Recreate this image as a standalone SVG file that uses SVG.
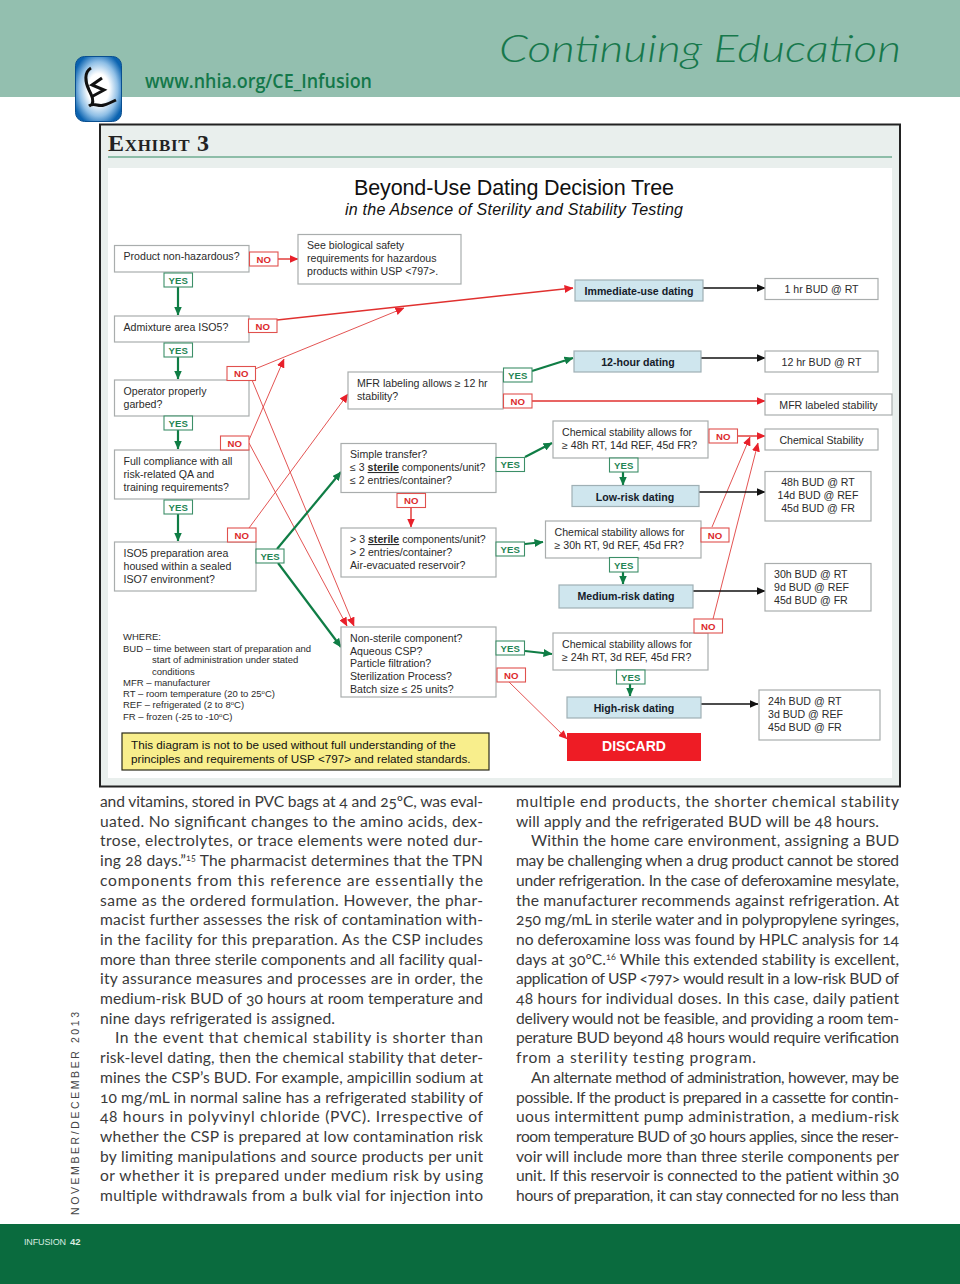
<svg xmlns="http://www.w3.org/2000/svg" width="960" height="1284" viewBox="0 0 960 1284">
<style>
text{font-family:"Liberation Sans",Arial,sans-serif;fill:#2b2b2b;font-size:10.6px}
.box{fill:#fff;stroke:#a9adad;stroke-width:1.2}
.blue{fill:#cfe6ee;stroke:#9fb0b5;stroke-width:1.2}
.yb{fill:#fff;stroke:#3c8f68;stroke-width:1.1}
.nb{fill:#fff;stroke:#e0514e;stroke-width:1.1}
.yt{fill:#1f8554;font-weight:700;font-size:9.6px;text-anchor:middle}
.nt{fill:#dc2a2d;font-weight:700;font-size:9.6px;text-anchor:middle}
.bold{font-weight:700;fill:#15202a;text-anchor:middle}
.mid{text-anchor:middle}
.lg{font-size:9.5px}
.red{stroke:#e0413f;stroke-width:.9;fill:none;marker-end:url(#ar)}
.redb{stroke:#e0312f;stroke-width:1.4;fill:none;marker-end:url(#ar)}
.grn{stroke:#0f7d45;stroke-width:2.2;fill:none;marker-end:url(#ag)}
.blk{stroke:#111;stroke-width:1.3;fill:none;marker-end:url(#ak)}
.body text{font-family:"Lato","Open Sans",sans-serif;font-size:15.6px;fill:#3a3a3a;font-variant-numeric:oldstyle-nums}
.sup{font-size:9px}
</style>
<defs>
<marker id="ar" markerUnits="userSpaceOnUse" markerWidth="9" markerHeight="8" refX="8.5" refY="4" orient="auto"><path d="M0 0L9 4L0 8z" fill="#e8202a"/></marker>
<marker id="ag" markerUnits="userSpaceOnUse" markerWidth="9" markerHeight="8" refX="8.5" refY="4" orient="auto"><path d="M0 0L9 4L0 8z" fill="#0f7d45"/></marker>
<marker id="ak" markerUnits="userSpaceOnUse" markerWidth="9" markerHeight="8" refX="8.5" refY="4" orient="auto"><path d="M0 0L9 4L0 8z" fill="#111"/></marker>
<radialGradient id="lg" cx="50%" cy="50%" r="58%"><stop offset="0.4" stop-color="#fff"/><stop offset="0.72" stop-color="#8fbfe6"/><stop offset="1" stop-color="#0b63b0"/></radialGradient>
</defs>
<rect width="960" height="1284" fill="#fff"/>
<g id="header">
<rect width="960" height="97" fill="#93bfaf"/>
<text x="499" y="62" textLength="402" lengthAdjust="spacingAndGlyphs" style="font-family:Lato,sans-serif;font-style:italic;font-weight:300;font-size:38px;fill:#17784c">Continuing Education</text>
<text x="145" y="88" textLength="227" lengthAdjust="spacingAndGlyphs" style="font-family:'Open Sans',sans-serif;font-weight:600;font-size:19px;fill:#14784a">www.nhia.org/CE_Infusion</text>
<rect x="75.500" y="56.500" width="46" height="65" rx="9" fill="url(#lg)" stroke="#0a4f8f"/>
<path d="M91 68C84 72 85 82 89 90C92 96 94 100 92 105M102 78L92 85L104 90L93 96M89 106C94 102 98 107 104 105C108 104 112 102 116 100" fill="none" stroke="#111" stroke-width="3"/>
</g>
<g id="frame">
<rect x="100" y="124.500" width="800" height="662" fill="#e9efed" stroke="#222" stroke-width="2"/>
<rect x="108" y="168" width="784" height="610" fill="#fff"/>
<text x="108" y="151" textLength="101" style="font-family:'Liberation Serif',serif;font-variant:small-caps;font-size:24px;font-weight:700;fill:#222">Exhibit 3</text>
<rect x="108" y="156" width="784" height="2" fill="#8dbda8"/>
<text x="514" y="195" class="mid" textLength="320" style="font-size:21.5px;fill:#111">Beyond-Use Dating Decision Tree</text>
<text x="514" y="215" class="mid" textLength="338" style="font-size:16px;font-style:italic;fill:#111">in the Absence of Sterility and Stability Testing</text>
</g>
<g id="connectors">
<path class="redb" d="M278 259H298"/>
<path class="redb" d="M277 320L573 288"/>
<path class="red" d="M255 369L404 308"/>
<path class="red" d="M249 440L284 359"/>
<path class="red" d="M249 528L348 394"/>
<path class="red" d="M252 380L354 626"/>
<path class="red" d="M249 443L347 626"/>
<path class="redb" d="M532 401H765"/>
<path class="redb" d="M738 436H765"/>
<path class="red" d="M712 527L750 437"/>
<path class="red" d="M713 619L758 443"/>
<path class="red" d="M509 682L567 739"/>
<path class="redb" d="M411 508V527"/>
<path class="grn" d="M178 287V315"/>
<path class="grn" d="M178 357V379"/>
<path class="grn" d="M178 430V449"/>
<path class="grn" d="M178 514V541"/>
<path class="grn" d="M277 549L341 472"/>
<path class="grn" d="M278 563L341 647"/>
<path class="grn" d="M532 371L573 358"/>
<path class="grn" d="M525 457L552 443"/>
<path class="grn" d="M525 544L543 542"/>
<path class="grn" d="M525 651L552 654"/>
<path class="grn" d="M623 472V485"/>
<path class="grn" d="M623 572V584"/>
<path class="grn" d="M630 684V696"/>
<path class="blk" d="M703 288H765"/>
<path class="blk" d="M701 358H765"/>
<path class="blk" d="M699 492H765"/>
<path class="blk" d="M693 591H765"/>
<path class="blk" d="M701 704H758"/>
</g>
<g id="n-product"><rect class="box" x="114.500" y="245.500" width="134.500" height="26.500"/><text x="123.500" y="260">Product non-hazardous?</text></g>
<g id="n-bio"><rect class="box" x="298" y="234.500" width="163" height="49.500"/><text x="307" y="249">See biological safety</text><text x="307" y="262">requirements for hazardous</text><text x="307" y="275">products within USP &lt;797&gt;.</text></g>
<g id="n-admix"><rect class="box" x="114.500" y="316" width="134.500" height="26"/><text x="123.500" y="330.500">Admixture area ISO5?</text></g>
<g id="n-garbed"><rect class="box" x="114.500" y="380" width="134.500" height="36"/><text x="123.500" y="395">Operator properly</text><text x="123.500" y="408">garbed?</text></g>
<g id="n-compliance"><rect class="box" x="114.500" y="450" width="134.500" height="49"/><text x="123.500" y="465">Full compliance with all</text><text x="123.500" y="478">risk-related QA and</text><text x="123.500" y="491">training requirements?</text></g>
<g id="n-iso5"><rect class="box" x="114.500" y="542" width="141.500" height="49"/><text x="123.500" y="557">ISO5 preparation area</text><text x="123.500" y="570">housed within a sealed</text><text x="123.500" y="583">ISO7 environment?</text></g>
<g id="n-mfr"><rect class="box" x="348" y="372" width="155" height="37"/><text x="357" y="387">MFR labeling allows ≥ 12 hr</text><text x="357" y="400">stability?</text></g>
<g id="n-simple"><rect class="box" x="341" y="443.500" width="155" height="49"/><text x="350" y="458">Simple transfer?</text><text x="350" y="471">≤ 3 <tspan font-weight="700" text-decoration="underline">sterile</tspan> components/unit?</text><text x="350" y="484">≤ 2 entries/container?</text></g>
<g id="n-medium-q"><rect class="box" x="341" y="528" width="155" height="49"/><text x="350" y="543">&gt; 3 <tspan font-weight="700" text-decoration="underline">sterile</tspan> components/unit?</text><text x="350" y="556">&gt; 2 entries/container?</text><text x="350" y="569">Air-evacuated reservoir?</text></g>
<g id="n-nonsterile"><rect class="box" x="341" y="627" width="155" height="70"/><text x="350" y="642">Non-sterile component?</text><text x="350" y="654.500">Aqueous CSP?</text><text x="350" y="667">Particle filtration?</text><text x="350" y="680">Sterilization Process?</text><text x="350" y="692.500">Batch size ≤ 25 units?</text></g>
<g id="n-chem48"><rect class="box" x="553" y="421" width="155" height="37"/><text x="562" y="436">Chemical stability allows for</text><text x="562" y="449">≥ 48h RT, 14d REF, 45d FR?</text></g>
<g id="n-chem30"><rect class="box" x="545.500" y="521" width="155.500" height="37"/><text x="554.500" y="536">Chemical stability allows for</text><text x="554.500" y="549">≥ 30h RT, 9d REF, 45d FR?</text></g>
<g id="n-chem24"><rect class="box" x="553" y="633" width="155" height="37"/><text x="562" y="648">Chemical stability allows for</text><text x="562" y="661">≥ 24h RT, 3d REF, 45d FR?</text></g>
<g id="n-immediate"><rect class="blue" x="575" y="280" width="128" height="21"/><text class="bold" x="639" y="295">Immediate-use dating</text></g>
<g id="n-12hour"><rect class="blue" x="574" y="351" width="127" height="21"/><text class="bold" x="638" y="366">12-hour dating</text></g>
<g id="n-low"><rect class="blue" x="572" y="485.500" width="127" height="21"/><text class="bold" x="635" y="500.500">Low-risk dating</text></g>
<g id="n-medium"><rect class="blue" x="559" y="585" width="134" height="23"/><text class="bold" x="626" y="600">Medium-risk dating</text></g>
<g id="n-high"><rect class="blue" x="567" y="697" width="134" height="21"/><text class="bold" x="634" y="712">High-risk dating</text></g>
<g id="n-discard"><rect x="567" y="733" width="134" height="28" fill="#ee1c25"/><text x="634" y="751" class="mid" style="fill:#fff;font-weight:700;font-size:14px">DISCARD</text></g>
<g id="n-r1"><rect class="box" x="765" y="278.500" width="113" height="21"/><text x="821.500" y="293" class="mid">1 hr BUD @ RT</text></g>
<g id="n-r12"><rect class="box" x="765" y="351" width="113" height="21"/><text x="821.500" y="366" class="mid">12 hr BUD @ RT</text></g>
<g id="n-rmfr"><rect class="box" x="765" y="394" width="127" height="21"/><text x="828.500" y="409" class="mid">MFR labeled stability</text></g>
<g id="n-rchem"><rect class="box" x="765" y="429" width="113" height="21"/><text x="821.500" y="444" class="mid">Chemical Stability</text></g>
<g id="n-r48"><rect class="box" x="765" y="471.500" width="106" height="49.500"/><text x="818" y="486" class="mid">48h BUD @ RT</text><text x="818" y="499" class="mid">14d BUD @ REF</text><text x="818" y="512" class="mid">45d BUD @ FR</text></g>
<g id="n-r30"><rect class="box" x="765" y="563.500" width="106" height="47.500"/><text x="774" y="578">30h BUD @ RT</text><text x="774" y="591">9d BUD @ REF</text><text x="774" y="604">45d BUD @ FR</text></g>
<g id="n-r24"><rect class="box" x="759" y="690" width="121" height="50"/><text x="768" y="705">24h BUD @ RT</text><text x="768" y="718">3d BUD @ REF</text><text x="768" y="731">45d BUD @ FR</text></g>
<g id="labels-yes">
<g id="y1"><rect class="yb" x="164" y="273" width="28.500" height="14"/><text class="yt" x="178.200" y="283.500">YES</text></g>
<g id="y2"><rect class="yb" x="164" y="343" width="28.500" height="14"/><text class="yt" x="178.200" y="353.500">YES</text></g>
<g id="y3"><rect class="yb" x="164" y="416" width="28.500" height="14"/><text class="yt" x="178.200" y="426.500">YES</text></g>
<g id="y4"><rect class="yb" x="164" y="500" width="28.500" height="14"/><text class="yt" x="178.200" y="510.500">YES</text></g>
<g id="y5"><rect class="yb" x="256" y="549" width="28" height="14"/><text class="yt" x="270" y="559.500">YES</text></g>
<g id="y6"><rect class="yb" x="503.500" y="368" width="28.500" height="14"/><text class="yt" x="517.700" y="378.500">YES</text></g>
<g id="y7"><rect class="yb" x="496" y="457.500" width="28.500" height="14"/><text class="yt" x="510.200" y="468">YES</text></g>
<g id="y8"><rect class="yb" x="496" y="542" width="28.500" height="14"/><text class="yt" x="510.200" y="552.500">YES</text></g>
<g id="y9"><rect class="yb" x="496" y="641" width="28.500" height="14"/><text class="yt" x="510.200" y="651.500">YES</text></g>
<g id="y10"><rect class="yb" x="609.500" y="458" width="28.500" height="14"/><text class="yt" x="623.700" y="468.500">YES</text></g>
<g id="y11"><rect class="yb" x="609.500" y="557.500" width="28.500" height="14.500"/><text class="yt" x="623.700" y="568.500">YES</text></g>
<g id="y12"><rect class="yb" x="616.500" y="670" width="28.500" height="14"/><text class="yt" x="630.700" y="680.500">YES</text></g>
</g>
<g id="labels-no">
<g id="x1"><rect class="nb" x="249.500" y="252" width="28.500" height="14"/><text class="nt" x="263.700" y="262.500">NO</text></g>
<g id="x2"><rect class="nb" x="248.500" y="319" width="28.500" height="13.500"/><text class="nt" x="262.700" y="329.500">NO</text></g>
<g id="x3"><rect class="nb" x="227" y="366.500" width="28.500" height="14"/><text class="nt" x="241.200" y="377">NO</text></g>
<g id="x4"><rect class="nb" x="220.500" y="436" width="28.500" height="14"/><text class="nt" x="234.700" y="446.500">NO</text></g>
<g id="x5"><rect class="nb" x="227.500" y="528" width="28.500" height="14"/><text class="nt" x="241.700" y="538.500">NO</text></g>
<g id="x6"><rect class="nb" x="503.500" y="394" width="28.500" height="14"/><text class="nt" x="517.700" y="404.500">NO</text></g>
<g id="x7"><rect class="nb" x="397" y="493.500" width="28.500" height="14"/><text class="nt" x="411.200" y="504">NO</text></g>
<g id="x8"><rect class="nb" x="709" y="429" width="28.500" height="14"/><text class="nt" x="723.200" y="439.500">NO</text></g>
<g id="x9"><rect class="nb" x="701" y="528" width="28" height="14"/><text class="nt" x="715" y="538.500">NO</text></g>
<g id="x10"><rect class="nb" x="694" y="619" width="28.500" height="14"/><text class="nt" x="708.200" y="629.500">NO</text></g>
<g id="x11"><rect class="nb" x="497" y="668" width="28.500" height="14"/><text class="nt" x="511.200" y="678.500">NO</text></g>
</g>
<g id="legend">
<text class="lg" x="123" y="640">WHERE:</text>
<text class="lg" x="123" y="651.500">BUD – time between start of preparation and</text>
<text class="lg" x="152" y="662.500">start of administration under stated</text>
<text class="lg" x="152" y="674.500">conditions</text>
<text class="lg" x="123" y="685.500">MFR – manufacturer</text>
<text class="lg" x="123" y="697">RT – room temperature (20 to 25<tspan font-size="6" dy="-3">o</tspan><tspan dy="3">C)</tspan></text>
<text class="lg" x="123" y="708">REF – refrigerated (2 to 8<tspan font-size="6" dy="-3">o</tspan><tspan dy="3">C)</tspan></text>
<text class="lg" x="123" y="719.500">FR – frozen (-25 to  -10<tspan font-size="6" dy="-3">o</tspan><tspan dy="3">C)</tspan></text>
</g>
<g id="notice"><rect x="122" y="733" width="367" height="37" fill="#f8ee8c" stroke="#2a2a1a" stroke-width="1.200"/>
<text x="131" y="749" style="font-size:11.7px;fill:#111">This diagram is not to be used without full understanding of the</text>
<text x="131" y="763" style="font-size:11.7px;fill:#111">principles and requirements of USP &lt;797&gt; and related standards.</text></g>
<g class="body" id="col-left" transform="translate(0 1)">
<text x="100" y="806" textLength="383">and vitamins, stored in PVC bags at 4 and 25ºC, was eval-</text>
<text x="100" y="825.700" textLength="383">uated. No significant changes to the amino acids, dex-</text>
<text x="100" y="845.400" textLength="383">trose, electrolytes, or trace elements were noted dur-</text>
<text x="100" y="865.100" textLength="383">ing 28 days.”<tspan class="sup" dy="-5">15</tspan><tspan dy="5"> The pharmacist determines that the TPN</tspan></text>
<text x="100" y="884.800" textLength="383">components from this reference are essentially the</text>
<text x="100" y="904.500" textLength="383">same as the ordered formulation. However, the phar-</text>
<text x="100" y="924.200" textLength="383">macist further assesses the risk of contamination with-</text>
<text x="100" y="943.900" textLength="383">in the facility for this preparation. As the CSP includes</text>
<text x="100" y="963.600" textLength="383">more than three sterile components and all facility qual-</text>
<text x="100" y="983.300" textLength="383">ity assurance measures and processes are in order, the</text>
<text x="100" y="1003" textLength="383">medium-risk BUD of 30 hours at room temperature and</text>
<text x="100" y="1022.700" textLength="235">nine days refrigerated is assigned.</text>
<text x="115" y="1042.400" textLength="368">In the event that chemical stability is shorter than</text>
<text x="100" y="1062.100" textLength="383">risk-level dating, then the chemical stability that deter-</text>
<text x="100" y="1081.800" textLength="383">mines the CSP’s BUD. For example, ampicillin sodium at</text>
<text x="100" y="1101.500" textLength="383">10 mg/mL in normal saline has a refrigerated stability of</text>
<text x="100" y="1121.200" textLength="383">48 hours in polyvinyl chloride (PVC). Irrespective of</text>
<text x="100" y="1140.900" textLength="383">whether the CSP is prepared at low contamination risk</text>
<text x="100" y="1160.600" textLength="383">by limiting manipulations and source products per unit</text>
<text x="100" y="1180.300" textLength="383">or whether it is prepared under medium risk by using</text>
<text x="100" y="1200" textLength="383">multiple withdrawals from a bulk vial for injection into</text>
</g>
<g class="body" id="col-right" transform="translate(0 1)">
<text x="516" y="806" textLength="383">multiple end products, the shorter chemical stability</text>
<text x="516" y="825.700" textLength="363">will apply and the refrigerated BUD will be 48 hours.</text>
<text x="531" y="845.400" textLength="368">Within the home care environment, assigning a BUD</text>
<text x="516" y="865.100" textLength="383">may be challenging when a drug product cannot be stored</text>
<text x="516" y="884.800" textLength="383">under refrigeration. In the case of deferoxamine mesylate,</text>
<text x="516" y="904.500" textLength="383">the manufacturer recommends against refrigeration. At</text>
<text x="516" y="924.200" textLength="383">250 mg/mL in sterile water and in polypropylene syringes,</text>
<text x="516" y="943.900" textLength="383">no deferoxamine loss was found by HPLC analysis for 14</text>
<text x="516" y="963.600" textLength="383">days at 30ºC.<tspan class="sup" dy="-5">16</tspan><tspan dy="5"> While this extended stability is excellent,</tspan></text>
<text x="516" y="983.300" textLength="383">application of USP &lt;797&gt; would result in a low-risk BUD of</text>
<text x="516" y="1003" textLength="383">48 hours for individual doses. In this case, daily patient</text>
<text x="516" y="1022.700" textLength="383">delivery would not be feasible, and providing a room tem-</text>
<text x="516" y="1042.400" textLength="383">perature BUD beyond 48 hours would require verification</text>
<text x="516" y="1062.100" textLength="240">from a sterility testing program.</text>
<text x="531" y="1081.800" textLength="368">An alternate method of administration, however, may be</text>
<text x="516" y="1101.500" textLength="383">possible. If the product is prepared in a cassette for contin-</text>
<text x="516" y="1121.200" textLength="383">uous intermittent pump administration, a medium-risk</text>
<text x="516" y="1140.900" textLength="383">room temperature BUD of 30 hours applies, since the reser-</text>
<text x="516" y="1160.600" textLength="383">voir will include more than three sterile components per</text>
<text x="516" y="1180.300" textLength="383">unit. If this reservoir is connected to the patient within 30</text>
<text x="516" y="1200" textLength="383">hours of preparation, it can stay connected for no less than</text>
</g>
<text transform="translate(79 1215) rotate(-90)" textLength="203" style="font-size:10.5px;fill:#444">NOVEMBER/DECEMBER 2013</text>
<g id="footer"><rect y="1224" width="960" height="60" fill="#0a6b3e"/>
<text x="24" y="1245" textLength="42" style="font-size:9px;fill:#d8ece0">INFUSION</text>
<text x="70" y="1245" style="font-size:9.5px;font-weight:700;fill:#d8ece0">42</text></g>
</svg>
